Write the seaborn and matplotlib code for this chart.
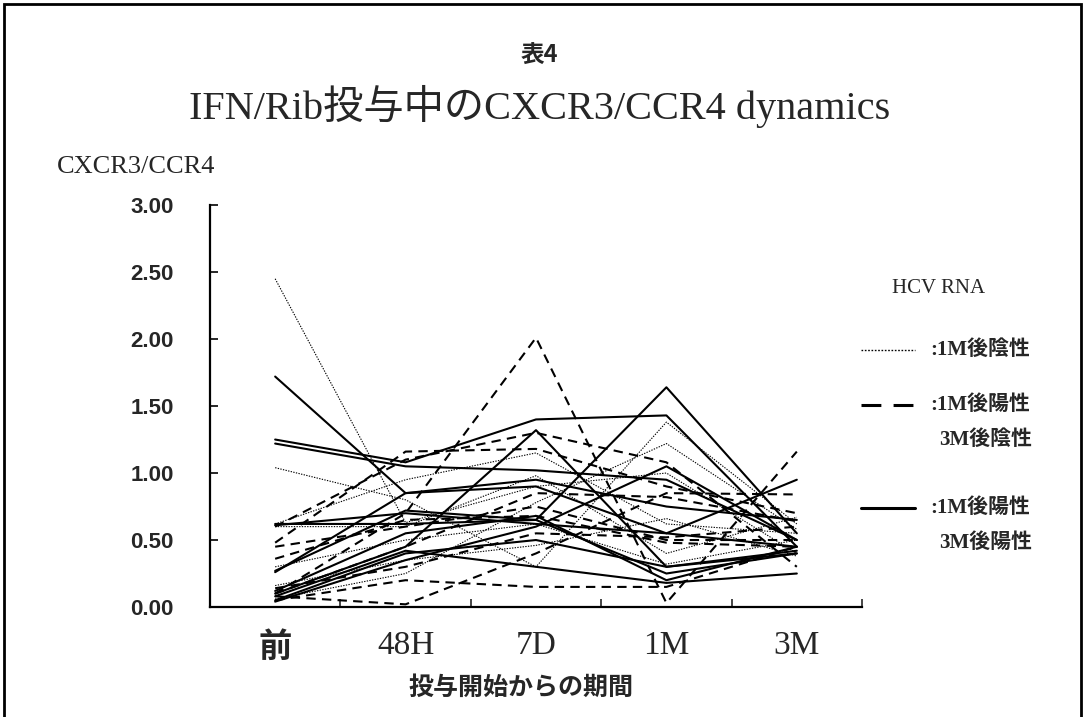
import matplotlib
matplotlib.use("Agg")
import matplotlib.pyplot as plt
import seaborn as sns
import pandas as pd
from matplotlib.lines import Line2D
from matplotlib.patches import Rectangle
from matplotlib.ticker import FormatStrFormatter

periods = ['前', '48H', '7D', '1M', '3M']

# HCV RNA: 1M後陰性 (dotted)
neg_1m = [
    [2.45, 0.63, 0.90, 1.00, 0.40],
    [1.04, 0.80, 0.30, 1.38, 0.62],
    [0.62, 0.95, 1.15, 0.62, 0.55],
    [0.06, 0.25, 0.78, 1.22, 0.58],
    [0.30, 0.50, 0.62, 0.32, 0.50],
    [0.16, 0.35, 0.46, 0.66, 0.38],
    [0.60, 0.60, 0.98, 0.40, 0.67],
]
# 1M後陽性 / 3M後陰性 (dashed)
pos_1m_neg_3m = [
    [0.10, 0.70, 2.01, 0.03, 1.16],
    [0.48, 1.16, 1.18, 0.90, 0.70],
    [0.05, 0.20, 0.15, 0.15, 0.45],
    [0.08, 0.02, 0.40, 0.85, 0.84],
    [0.45, 0.60, 0.75, 0.50, 0.50],
    [0.36, 0.65, 0.68, 0.48, 0.45],
    [0.14, 0.30, 0.55, 0.52, 0.60],
    [0.60, 1.10, 1.30, 1.08, 0.30],
    [0.10, 0.45, 0.85, 0.82, 0.64],
]
# 1M後陽性 / 3M後陽性 (solid)
pos_1m_pos_3m = [
    [1.72, 0.85, 0.90, 0.55, 0.45],
    [1.25, 1.08, 1.40, 1.43, 0.45],
    [1.22, 1.05, 1.02, 0.95, 0.50],
    [0.27, 0.72, 0.65, 1.64, 0.55],
    [0.10, 0.45, 1.32, 0.30, 0.40],
    [0.62, 0.62, 0.65, 0.25, 0.40],
    [0.05, 0.40, 0.50, 0.30, 0.42],
    [0.12, 0.55, 0.68, 0.20, 0.45],
    [0.61, 0.70, 0.62, 0.55, 0.95],
    [0.08, 0.42, 0.30, 0.18, 0.25],
    [0.26, 0.85, 0.95, 0.75, 0.65],
    [0.04, 0.35, 0.60, 1.05, 0.50],
]

SERIF = ['Liberation Serif', 'Noto Sans CJK JP']
GOTHIC = ['Noto Sans CJK JP', 'DejaVu Sans']

rows = []
pid = 0
for grp, series in [('neg', neg_1m), ('dash', pos_1m_neg_3m), ('solid', pos_1m_pos_3m)]:
    for vals in series:
        for i, v in enumerate(vals):
            rows.append({'group': grp, 'pid': pid, 'pos': i + 0.5, 'value': v})
        pid += 1
df = pd.DataFrame(rows)

sns.set_style('white')
plt.rcParams['font.family'] = SERIF

fig = plt.figure(figsize=(10.85, 7.17), dpi=100)
ax = fig.add_axes([0.1935, 0.1534, 0.601, 0.5606])

line_styles = {
    'neg': ((0, (1.2, 1.2)), 0.8),
    'dash': ((0, (4.5, 3)), 1.5),
    'solid': ('-', 1.5),
}
for grp, (ls, lw) in line_styles.items():
    sns.lineplot(data=df[df.group == grp], x='pos', y='value', units='pid',
                 estimator=None, color='black', linestyle=ls, linewidth=lw,
                 ax=ax, legend=False)

ax.set_xlim(0, 5)
ax.set_ylim(0, 3)
ax.set_xlabel('')
ax.set_ylabel('')
sns.despine(ax=ax)
for s in ['left', 'bottom']:
    ax.spines[s].set_linewidth(1.6)
    ax.spines[s].set_color('black')

ax.set_yticks([0, 0.5, 1, 1.5, 2, 2.5, 3])
ax.yaxis.set_major_formatter(FormatStrFormatter('%.2f'))
ax.tick_params(axis='y', direction='in', length=6, width=1.4, left=True,
               pad=26, labelsize=16)
for t in ax.get_yticklabels():
    t.set_fontfamily(['Liberation Sans', 'DejaVu Sans'])
    t.set_fontweight('bold')

ax.set_xticks([1, 2, 3, 4, 5])
ax.set_xticklabels([])
ax.tick_params(axis='x', which='major', direction='in', length=6, width=1.2, bottom=True)
ax.set_xticks([i + 0.5 for i in range(len(periods))], minor=True)
ax.set_xticklabels(periods, minor=True)
ax.tick_params(axis='x', which='minor', length=0, pad=17, labelsize=24)
for t in ax.get_xticklabels(minor=True):
    if t.get_text() == '前':
        t.set_fontfamily(GOTHIC)
        t.set_fontweight('bold')

# titles and axis texts
fig.text(0.497, 0.922, '表4', ha='center', va='center', fontsize=17,
         fontweight='bold', family=GOTHIC)
fig.text(0.497, 0.852, 'IFN/Rib投与中のCXCR3/CCR4 dynamics', ha='center',
         va='center', fontsize=29, family=SERIF)
fig.text(0.052, 0.767, 'CXCR3/CCR4', ha='left', va='center', fontsize=19, family=SERIF)
fig.text(0.480, 0.040, '投与開始からの期間', ha='center', va='center', fontsize=18,
         fontweight='bold', family=GOTHIC)

# hand-made legend on the right
fig.text(0.822, 0.598, 'HCV RNA', ha='left', va='center', fontsize=15, family=SERIF)
legend_items = [
    (0.512, (0, (1.2, 1.2)), 1.0, [':1M後陰性']),
    (0.435, (0, (6.5, 4)), 2.2, [':1M後陽性', '3M後陰性']),
    (0.291, '-', 2.2, [':1M後陽性', '3M後陽性']),
]
for y, ls, lw, labels in legend_items:
    fig.add_artist(Line2D([0.794, 0.843], [y, y], transform=fig.transFigure,
                          color='black', linestyle=ls, linewidth=lw))
    fig.text(0.857, y, labels[0], ha='left', va='center', fontsize=15,
             family=SERIF, fontweight='bold')
    if len(labels) > 1:
        fig.text(0.866, y - 0.048, labels[1], ha='left', va='center', fontsize=15,
                 family=SERIF, fontweight='bold')

# outer frame
fig.add_artist(Rectangle((0.004, -0.02), 0.992, 1.014, transform=fig.transFigure,
                         fill=False, edgecolor='black', linewidth=2))

fig.savefig('out.png', dpi=100)
